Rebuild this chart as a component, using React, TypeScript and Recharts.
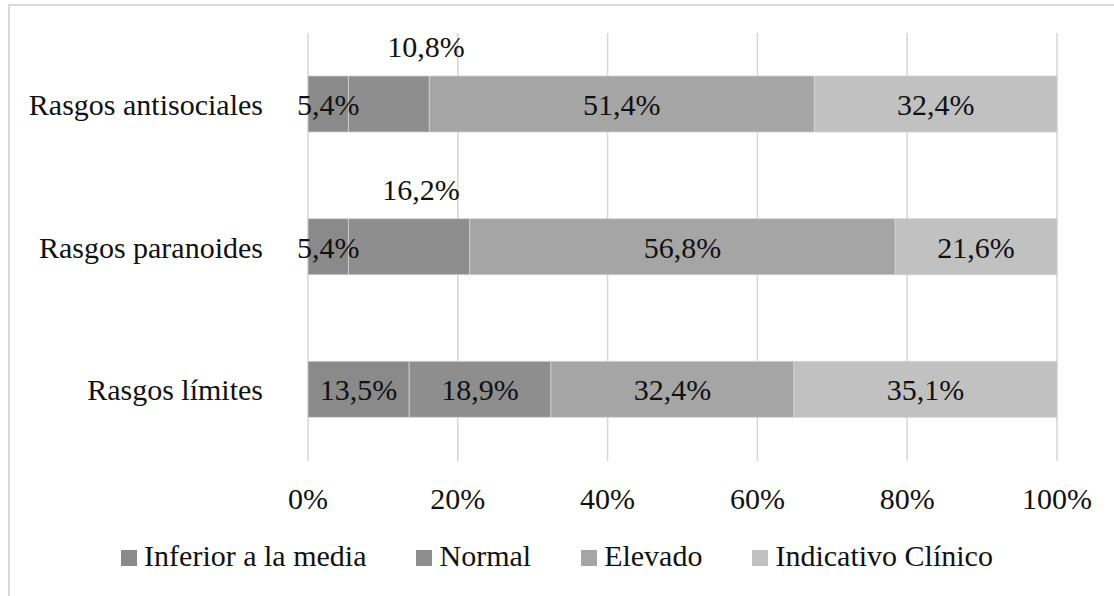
import React from 'react';
import { BarChart, Bar, XAxis, YAxis, CartesianGrid, Legend, LabelList } from 'recharts';

// Rasgos evaluados (de arriba a abajo)
const categories = ['Rasgos antisociales', 'Rasgos paranoides', 'Rasgos límites'];

// Porcentaje por nivel en cada rasgo
const inferior = [5.4, 5.4, 13.5];
const normal = [10.8, 16.2, 18.9];
const elevado = [51.4, 56.8, 32.4];
const clinico = [32.4, 21.6, 35.1];

const xTicks = [0, 0.2, 0.4, 0.6, 0.8, 1];

const series = [
  { key: 'inferior', name: 'Inferior a la media', color: '#8a8a8a' },
  { key: 'normal', name: 'Normal', color: '#8e8e8e' },
  { key: 'elevado', name: 'Elevado', color: '#a5a5a5' },
  { key: 'clinico', name: 'Indicativo Clínico', color: '#c1c1c1' },
];

const data = categories.map((name, i) => ({
  name,
  inferior: inferior[i],
  normal: normal[i],
  elevado: elevado[i],
  clinico: clinico[i],
}));

const FONT = "'Times New Roman', Tinos, 'Liberation Serif', 'DejaVu Serif', 'Noto Serif', FreeSerif, Times, serif";
const textStyle = { fontFamily: FONT, fontSize: 30 };

const fmt = (v: number) => v.toFixed(1).replace('.', ',') + '%';

// label centred inside the segment
const InsideLabel = (props: any) => {
  const { x, y, width, height, value } = props;
  return (
    <text
      x={x + width / 2}
      y={y + height / 2 + 11}
      textAnchor="middle"
      style={textStyle}
      fill="#111"
    >
      {fmt(Number(value))}
    </text>
  );
};

// "Normal" sits above the bar on the two upper rows (segment too narrow)
const aboveShift = [37, 12];
const NormalLabel = (props: any) => {
  const { x, y, width, height, value, index } = props;
  if (index < 2) {
    return (
      <text
        x={x + width / 2 + aboveShift[index]}
        y={y - 19}
        textAnchor="middle"
        style={textStyle}
        fill="#111"
      >
        {fmt(Number(value))}
      </text>
    );
  }
  return <InsideLabel x={x} y={y} width={width} height={height} value={value} />;
};

const LegendContent = () => (
  <div
    style={{
      display: 'flex',
      justifyContent: 'center',
      gap: 50,
      fontFamily: FONT,
      fontSize: 30,
      lineHeight: '30px',
      height: 30,
      color: '#111',
    }}
  >
    {series.map(s => (
      <div key={s.key} style={{ display: 'flex', alignItems: 'flex-end' }}>
        <span
          style={{
            display: 'inline-block',
            width: 16,
            height: 16,
            background: s.color,
            marginRight: 7,
            marginBottom: 5,
          }}
        />
        <span>{s.name}</span>
      </div>
    ))}
  </div>
);

export default function App() {
  return (
    <div style={{ position: 'absolute', left: 0, top: 0, width: 1114, height: 596, background: '#fff' }}>
      <div
        style={{
          position: 'absolute',
          left: 8,
          top: 4,
          width: 1106,
          height: 592,
          borderTop: '2px solid #d9d9d9',
          borderLeft: '2px solid #d9d9d9',
          boxSizing: 'border-box',
        }}
      />
      <div style={{ position: 'absolute', left: 0, top: 0 }}>
        <BarChart
          width={1114}
          height={596}
          data={data}
          layout="vertical"
          stackOffset="expand"
          margin={{ top: 33, right: 57, bottom: 45, left: 0 }}
        >
          <CartesianGrid horizontal={false} stroke="#d6d6d6" strokeWidth={1.5} />
          <XAxis
            type="number"
            domain={[0, 1]}
            ticks={xTicks}
            tickFormatter={(v: number) => `${Math.round(v * 100)}%`}
            axisLine={false}
            tickLine={false}
            tickMargin={21}
            tick={{ ...textStyle, fill: '#111' }}
            height={60}
          />
          <YAxis
            type="category"
            dataKey="name"
            width={308}
            axisLine={false}
            tickLine={false}
            tickMargin={39}
            tick={{ ...textStyle, fill: '#111' }}
          />
          <Legend
            content={<LegendContent />}
            wrapperStyle={{ top: 541, left: 0, width: 1114, height: 30 }}
          />
          {series.map(s => (
            <Bar
              key={s.key}
              dataKey={s.key}
              name={s.name}
              stackId="a"
              fill={s.color}
              stroke="#d2d2d2"
              strokeWidth={0.8}
              barSize={56}
              isAnimationActive={false}
            >
              <LabelList
                dataKey={s.key}
                content={s.key === 'normal' ? <NormalLabel /> : <InsideLabel />}
              />
            </Bar>
          ))}
        </BarChart>
      </div>
    </div>
  );
}
